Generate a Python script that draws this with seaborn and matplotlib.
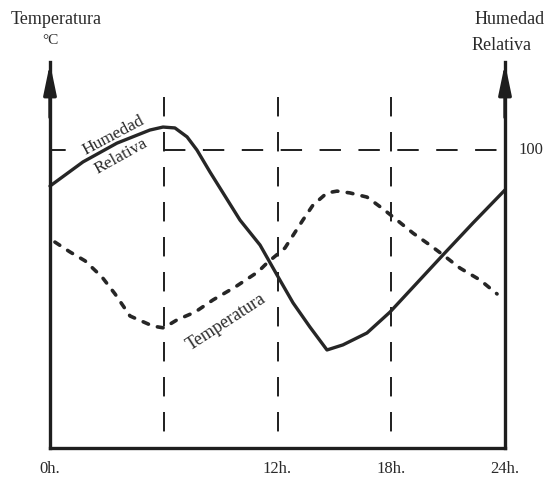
import pandas as pd
import matplotlib.pyplot as plt
import seaborn as sns

sns.set_style('white')
plt.rcParams['font.family'] = ['Liberation Serif', 'DejaVu Serif']

# curva de humedad relativa (horas, valor en escala donde 100 = saturación)
hum_horas = [0, 1.74, 3.53, 5.27, 5.96, 6.59, 7.23, 7.75, 8.44, 10.02, 11.08, 11.97,
             12.82, 13.71, 14.61, 15.45, 16.72, 17.93, 19.36, 20.73, 22.31, 24.0]
hum_valor = [87.9, 96.0, 102.3, 106.7, 107.7, 107.4, 104.4, 100.0, 92.6, 76.5, 68.1, 58.1,
             48.7, 40.6, 32.9, 34.6, 38.6, 45.6, 55.4, 64.8, 75.5, 86.6]

# curva de temperatura (misma escala vertical del dibujo)
temp_horas = [0.26, 1.05, 1.85, 2.74, 3.43, 4.22, 5.43, 6.0, 6.7, 7.65, 8.6, 9.76, 10.97,
              11.45, 12.39, 13.34, 13.87, 14.61, 15.14, 15.82, 16.72, 17.51, 18.3, 19.15,
              20.04, 20.73, 21.62, 22.68, 23.58]
temp_valor = [69.1, 65.8, 62.8, 57.4, 51.7, 44.3, 40.9, 40.3, 43.0, 45.6, 49.7, 54.0, 59.1,
              62.1, 67.1, 76.5, 81.5, 85.6, 86.2, 85.6, 84.2, 80.5, 76.5, 72.1,
              68.1, 64.8, 60.4, 56.4, 51.7]

horas_guia = [6, 12, 18]
ticks_x = [0, 12, 18, 24]
ticks_lbl = ['0h.', '12h.', '18h.', '24h.']

W, H = 548, 478
fig = plt.figure(figsize=(W / 100, H / 100), dpi=100)
# caja de ejes en píxeles: x 50..505, y 448..62
ax = fig.add_axes([50 / W, (H - 448) / H, 455 / W, 386 / H])
ax.set_xlim(0, 24)
ax.set_ylim(0, 386 / 2.98)

ink = '#1e1e1e'
hum_df = pd.DataFrame({'h': hum_horas, 'v': hum_valor})
temp_df = pd.DataFrame({'h': temp_horas, 'v': temp_valor})

# líneas guía discontinuas (de arriba hacia abajo)
for hg in horas_guia:
    ax.plot([hg, hg], [117.8, 0], color=ink, lw=1.4, dashes=(10, 8))
ax.plot([0, 0.8], [100, 100], color=ink, lw=1.4)
ax.plot([6, 24], [100, 100], color=ink, lw=1.4, dashes=(11, 9))

sns.lineplot(data=hum_df, x='h', y='v', color='#262626', lw=2.4, ax=ax,
             sort=False, clip_on=False)
sns.lineplot(data=temp_df, x='h', y='v', color='#262626', lw=2.6, ax=ax,
             sort=False, dashes=False, linestyle=(0, (1.6, 2.6)),
             solid_capstyle='round', dash_capstyle='round')

# marco: ejes izquierdo, derecho e inferior
for s in ['left', 'right', 'bottom']:
    ax.spines[s].set_visible(True)
    ax.spines[s].set_linewidth(2.4)
    ax.spines[s].set_color(ink)
ax.spines['top'].set_visible(False)
ax.set_xticks([])
ax.set_yticks([])
ax.set_xlabel('')
ax.set_ylabel('')

# puntas de flecha
for xa in [0, 24]:
    ax.annotate('', xy=(xa, 386 / 2.98 + 0.5), xytext=(xa, 110),
                arrowprops=dict(arrowstyle='-|>,head_length=1.3,head_width=0.27',
                                color=ink, lw=2.4, mutation_scale=14),
                annotation_clip=False)

def px(x, y):
    return x / W, 1 - y / H

tc = '#2a2a2a'
fig.text(*px(56, 20), 'Temperatura', ha='center', va='center', fontsize=13, color=tc)
fig.text(*px(50, 40), '°C', ha='center', va='center', fontsize=11, color=tc)
fig.text(*px(510, 20), 'Humedad', ha='center', va='center', fontsize=13, color=tc)
fig.text(*px(502, 45), 'Relativa', ha='center', va='center', fontsize=13, color=tc)
fig.text(*px(531, 150), '100', ha='center', va='center', fontsize=12, color=tc)

for t, l in zip(ticks_x, ticks_lbl):
    fig.text(*px(50 + t * 18.96, 469), l, ha='center', va='center', fontsize=12, color=tc)

fig.text(*px(113, 136), 'Humedad', ha='center', va='center', fontsize=12.5,
         rotation=28, color=tc)
fig.text(*px(121, 156), 'Relativa', ha='center', va='center', fontsize=12.5,
         rotation=29, color=tc)
fig.text(*px(226, 322), 'Temperatura', ha='center', va='center', fontsize=13,
         rotation=33, color=tc)

fig.savefig('out.png', dpi=100)
